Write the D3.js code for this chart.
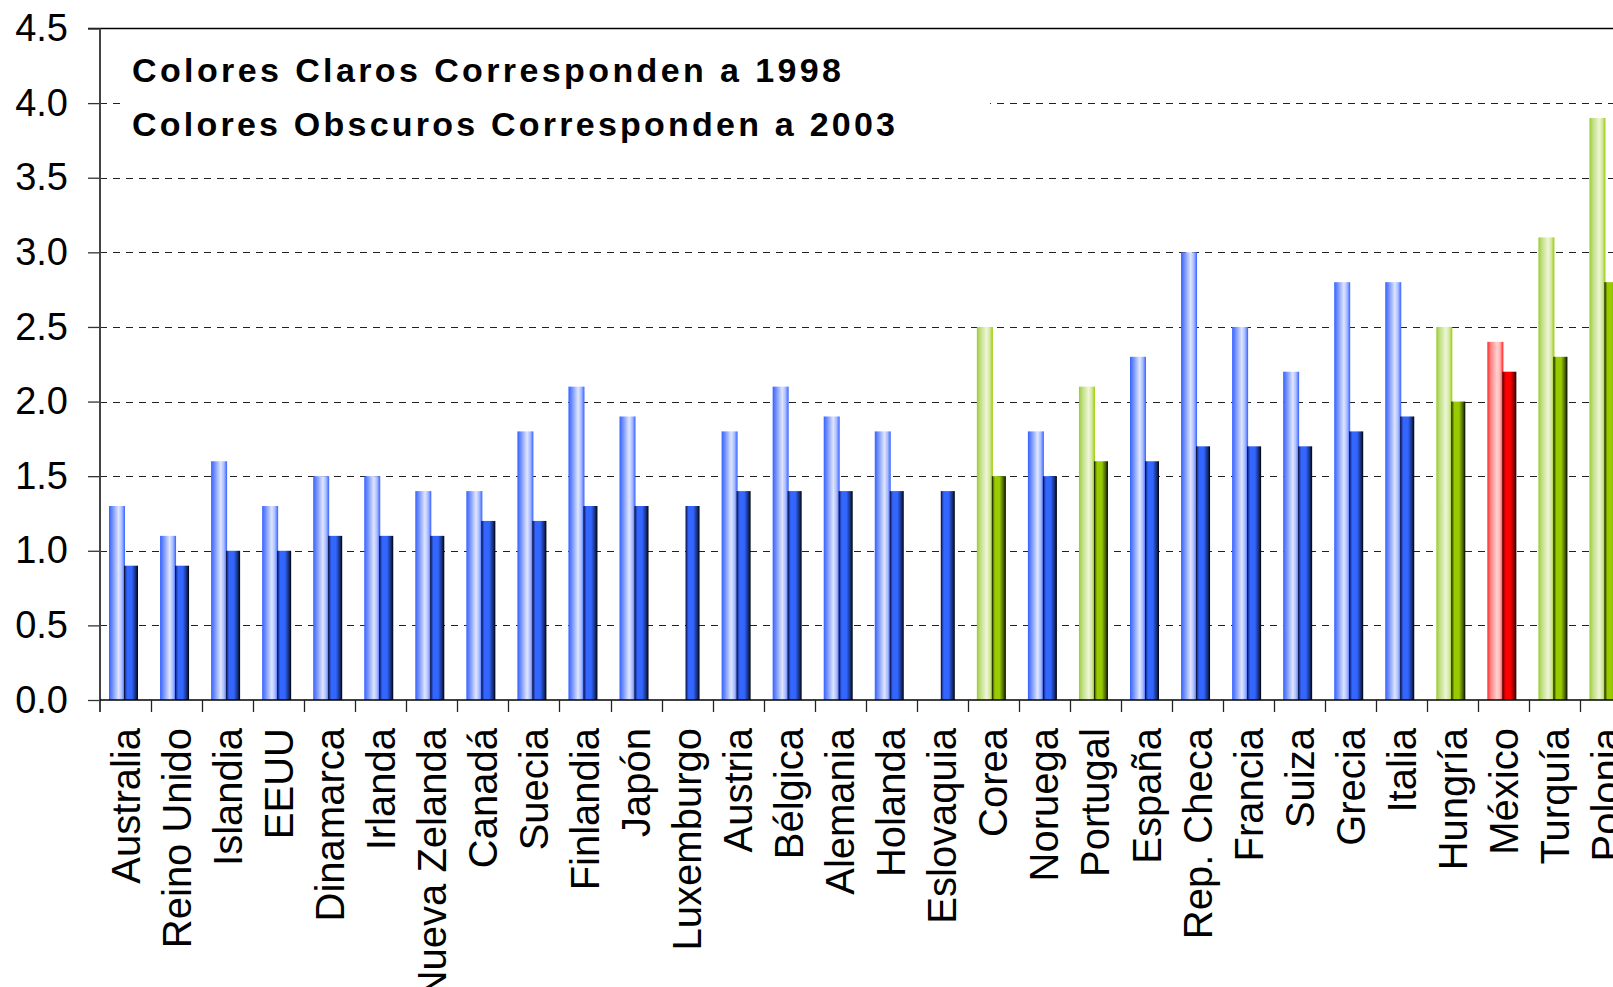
<!DOCTYPE html>
<html lang="es">
<head>
<meta charset="utf-8">
<title>Colores 1998 / 2003</title>
<script src="https://d3js.org/d3.v7.min.js"></script>
<style>
  body { margin: 0; background: #fff; }
  svg { display: block; }
</style>
</head>
<body>
<script>
// data
const countries = ["Australia", "Reino Unido", "Islandia", "EEUU", "Dinamarca", "Irlanda",
  "Nueva Zelanda", "Canadá", "Suecia", "Finlandia", "Japón", "Luxemburgo", "Austria",
  "Bélgica", "Alemania", "Holanda", "Eslovaquia", "Corea", "Noruega", "Portugal", "España",
  "Rep. Checa", "Francia", "Suiza", "Grecia", "Italia", "Hungría", "México", "Turquía", "Polonia"];
const values1998 = [1.3, 1.1, 1.6, 1.3, 1.5, 1.5, 1.4, 1.4, 1.8, 2.1, 1.9, null, 1.8, 2.1, 1.9,
  1.8, null, 2.5, 1.8, 2.1, 2.3, 3.0, 2.5, 2.2, 2.8, 2.8, 2.5, 2.4, 3.1, 3.9];
const values2003 = [0.9, 0.9, 1.0, 1.0, 1.1, 1.1, 1.1, 1.2, 1.2, 1.3, 1.3, 1.3, 1.4, 1.4, 1.4,
  1.4, 1.4, 1.5, 1.5, 1.6, 1.6, 1.7, 1.7, 1.7, 1.8, 1.9, 2.0, 2.2, 2.3, 2.8];
const greenCountries = ["Corea", "Portugal", "Hungría", "Turquía", "Polonia"];
const redCountries = ["México"];
const yTicks = [0, 0.5, 1.0, 1.5, 2.0, 2.5, 3.0, 3.5, 4.0, 4.5];
const noteLines = ["Colores Claros Corresponden a 1998", "Colores Obscuros Corresponden a 2003"];

const W = 1613, H = 987;
const plotLeft = 100, plotTop = 28.5, plotBottom = 700;
const step = 51.05;
const font = "Arial, 'Liberation Sans', sans-serif";

const svg = d3.select("body").append("svg")
  .attr("width", W).attr("height", H);

// gradients for the bars
const defs = svg.append("defs");
const gradients = {
  "blue-light": [[0, "#3562ff"], [0.2, "#6d8cff"], [0.6, "#dfe6ff"], [0.8, "#aabcff"], [1, "#3562ff"]],
  "blue-dark": [[0, "#000010"], [0.1, "#1d3ba8"], [0.22, "#3366ff"], [0.55, "#3366ff"], [0.85, "#142a70"], [1, "#000000"]],
  "green-light": [[0, "#99cc33"], [0.2, "#bedd7e"], [0.6, "#eef6d6"], [0.8, "#d4e8a4"], [1, "#99cc00"]],
  "green-dark": [[0, "#000000"], [0.1, "#5a7800"], [0.22, "#99cc00"], [0.55, "#99cc00"], [0.85, "#435a00"], [1, "#000000"]],
  "red-light": [[0, "#ff2a2a"], [0.2, "#ff7f7f"], [0.6, "#ffd2d2"], [0.8, "#ffb0b0"], [1, "#ff1a1a"]],
  "red-dark": [[0, "#330000"], [0.12, "#b00000"], [0.25, "#ff0000"], [0.55, "#ff0000"], [0.85, "#800000"], [1, "#200000"]]
};
Object.entries(gradients).forEach(([id, stops]) => {
  const g = defs.append("linearGradient").attr("id", id)
    .attr("x1", 0).attr("x2", 1).attr("y1", 0).attr("y2", 0);
  stops.forEach(s => g.append("stop").attr("offset", s[0]).attr("stop-color", s[1]));
});

// scales
const x = d3.scaleBand().domain(countries).range([plotLeft, plotLeft + step * countries.length]);
const series = d3.scaleBand().domain(["1998", "2003"]).range([9, 39]);
const y = d3.scaleLinear().domain([0, 4.5]).range([plotBottom, plotTop]);

function colorOf(c) {
  if (greenCountries.includes(c)) return "green";
  if (redCountries.includes(c)) return "red";
  return "blue";
}

// dashed gridlines
svg.append("g").selectAll("line")
  .data(yTicks.filter(t => t > 0 && t < 4.5))
  .enter().append("line")
  .attr("x1", plotLeft).attr("x2", W)
  .attr("y1", d => Math.round(y(d)) + 0.5).attr("y2", d => Math.round(y(d)) + 0.5)
  .attr("stroke", "#222").attr("stroke-width", 1.2)
  .attr("stroke-dasharray", "7,6");

// white box behind the note
svg.append("rect")
  .attr("x", 120).attr("y", 45).attr("width", 870).attr("height", 105)
  .attr("fill", "#fff");

svg.append("g").selectAll("text")
  .data(noteLines)
  .enter().append("text")
  .attr("x", 132).attr("y", (d, i) => 82 + i * 54)
  .attr("font-family", font).attr("font-weight", "bold").attr("font-size", "34px")
  .attr("fill", "#000")
  .attr("textLength", (d, i) => i === 0 ? 709 : 763)
  .attr("lengthAdjust", "spacing")
  .text(d => d);

// bars
const groups = svg.append("g").selectAll("g")
  .data(countries)
  .enter().append("g")
  .attr("transform", d => "translate(" + x(d) + ",0)");

groups.filter((d, i) => values1998[i] != null)
  .append("rect")
  .attr("x", series("1998"))
  .attr("width", series.bandwidth() + 1)
  .attr("y", d => y(values1998[countries.indexOf(d)]))
  .attr("height", d => plotBottom - y(values1998[countries.indexOf(d)]))
  .attr("fill", d => "url(#" + colorOf(d) + "-light)");

groups.append("rect")
  .attr("x", series("2003"))
  .attr("width", series.bandwidth() - 1)
  .attr("y", d => y(values2003[countries.indexOf(d)]))
  .attr("height", d => plotBottom - y(values2003[countries.indexOf(d)]))
  .attr("fill", d => "url(#" + colorOf(d) + "-dark)");

// top border
svg.append("line")
  .attr("x1", plotLeft - 12).attr("x2", W)
  .attr("y1", plotTop).attr("y2", plotTop)
  .attr("stroke", "#000").attr("stroke-width", 1.5);

// y axis
const yAxis = d3.axisLeft(y).tickValues(yTicks)
  .tickFormat(d3.format(".1f"))
  .tickSizeInner(12).tickSizeOuter(0).tickPadding(20);
const yg = svg.append("g").attr("transform", "translate(" + plotLeft + ",0)").call(yAxis);
yg.select(".domain").remove();
yg.selectAll(".tick line").attr("stroke", "#333").attr("stroke-width", 1.3);
yg.selectAll(".tick text")
  .attr("font-family", font).attr("font-size", "38px").attr("fill", "#000");
svg.append("line")
  .attr("x1", plotLeft).attr("x2", plotLeft).attr("y1", plotTop).attr("y2", plotBottom + 12)
  .attr("stroke", "#444").attr("stroke-width", 2);

// x axis
const xAxis = d3.axisBottom(x).tickSize(0).tickPadding(0);
const xg = svg.append("g").attr("transform", "translate(0," + plotBottom + ")").call(xAxis);
xg.select(".domain").remove();
svg.append("line")
  .attr("x1", plotLeft).attr("x2", W).attr("y1", plotBottom).attr("y2", plotBottom)
  .attr("stroke", "#000").attr("stroke-width", 1.5);
svg.append("g").selectAll("line")
  .data(countries.slice(1))
  .enter().append("line")
  .attr("x1", d => Math.round(x(d)) + 0.5).attr("x2", d => Math.round(x(d)) + 0.5)
  .attr("y1", plotBottom).attr("y2", plotBottom + 12)
  .attr("stroke", "#222").attr("stroke-width", 1.3);

xg.selectAll(".tick text")
  .attr("font-family", font).attr("font-size", "40px").attr("fill", "#000")
  .attr("text-anchor", "end")
  .attr("transform", "translate(0,28) rotate(-90)")
  .attr("x", 0).attr("y", 0).attr("dy", "0.35em");
</script>
</body>
</html>
